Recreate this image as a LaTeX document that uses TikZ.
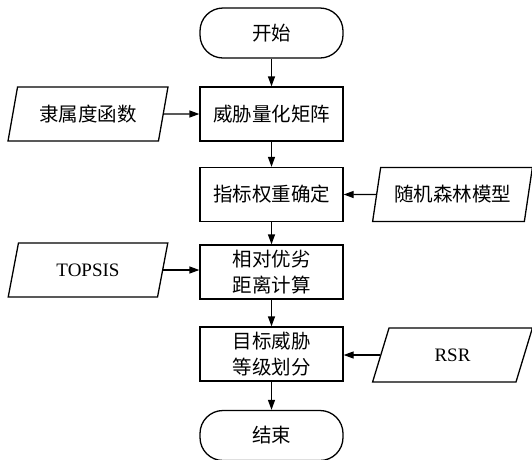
\documentclass[tikz,border=0pt]{standalone}
\usepackage{fontspec}
\setmainfont{Liberation Serif}
\newfontfamily\cjk{Noto Sans CJK SC}
\usetikzlibrary{shapes.geometric,arrows.meta}
\begin{document}
\begin{tikzpicture}[x=1pt,y=-1pt,
  every node/.style={font=\fontsize{19}{24}\selectfont},
  proc/.style={draw,line width=1.3pt,minimum width=143pt,minimum height=54pt,inner sep=0pt,align=center,font=\cjk\fontsize{19.5}{26}\selectfont},
  term/.style={draw,line width=1.3pt,rounded corners=23pt,minimum width=143pt,minimum height=50pt,inner sep=0pt,font=\cjk\fontsize{19.5}{24}\selectfont},
  iodata/.style={draw,line width=1.3pt,trapezium,trapezium left angle=70,trapezium right angle=110,trapezium stretches=true,minimum width=160pt,minimum height=54pt,inner sep=0pt},
  arr/.style={line width=1.3pt,-{Triangle[length=10pt,width=7pt]}}]
\useasboundingbox (0,0) rectangle (532,459);
\node[term] (start) at (271.5,33) {开始};
\node[proc] (b1) at (271.5,114) {威胁量化矩阵};
\node[proc] (b2) at (271.5,194.5) {指标权重确定};
\node[proc] (b3) at (271.5,272) {相对优劣\\距离计算};
\node[proc] (b4) at (271.5,354) {目标威胁\\等级划分};
\node[term] (stop) at (271.5,435.5) {结束};
\node[iodata,font=\cjk\fontsize{19.5}{24}\selectfont] (p1) at (88,114) {隶属度函数};
\node[iodata,font=\cjk\fontsize{19.5}{24}\selectfont] (p2) at (452.5,194.5) {随机森林模型};
\node[iodata] (p3) at (88,270) {TOPSIS};
\node[iodata] (p4) at (452.5,355) {RSR};
\draw[arr] (start) -- (b1);
\draw[arr] (b1) -- (b2);
\draw[arr] (b2) -- (b3);
\draw[arr] (b3) -- (b4);
\draw[arr] (b4) -- (stop);
\draw[arr] (p1.east) -- (b1.west);
\draw[arr] (p2.west) -- (b2.east);
\draw[arr] (p3.east) -- (p3.east -| b3.west);
\draw[arr] (p4.west) -- (p4.west -| b4.east);
\end{tikzpicture}
\end{document}
